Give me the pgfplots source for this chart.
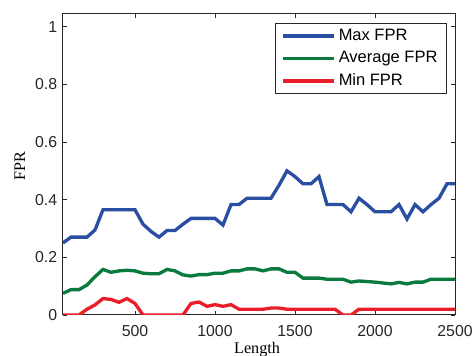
\documentclass[border=0pt]{standalone}
\usepackage{fontspec}
\setmainfont{Liberation Sans}
\newfontfamily\timesf{Liberation Serif}
\usepackage{pgfplots}
\pgfplotsset{compat=1.18}
\definecolor{cblue}{RGB}{42,79,162}
\definecolor{cgreen}{RGB}{10,122,62}
\definecolor{cred}{RGB}{232,30,40}
\begin{document}
\begin{tikzpicture}
\useasboundingbox (-37.8pt,-24.6pt) rectangle (246pt,189pt);
\begin{axis}[
  scale only axis,
  width=235.2pt, height=180.6pt,
  xmin=50, xmax=2500, ymin=0, ymax=1.044,
  xtick={500,1000,1500,2000,2500},
  ytick={0,0.2,0.4,0.6,0.8,1},
  tick align=inside,
  major tick length=2.6pt,
  axis line style={line width=0.6pt, color=black!85},
  every tick/.style={line width=0.5pt, color=black!85},
  /pgf/number format/assume math mode=true,
  /pgf/number format/set thousands separator={},
  tick label style={font=\fontsize{9.5}{11}\selectfont, color=black!85},
  xticklabel style={yshift=-2.5pt},
  xlabel={Length},
  ylabel={FPR},
  every axis x label/.style={at={(axis description cs:0.495,-0.088)},anchor=north,inner sep=0pt,font=\timesf\fontsize{9.7}{11}\selectfont},
  every axis y label/.style={at={(axis description cs:-0.11,0.495)},anchor=center,rotate=90,inner sep=0pt,font=\timesf\fontsize{9.7}{11}\selectfont},
  legend style={at={(axis description cs:0.98,0.97)}, anchor=north east,
    draw=black!85, line width=0.6pt, inner xsep=3.5pt, inner ysep=0.8pt,
    font=\fontsize{9.9}{11}\selectfont,
    nodes={inner xsep=2pt, inner ysep=2.25pt, text height=7pt, text depth=2pt}},
  legend cell align=left,
  legend image code/.code={\draw[#1,line width=2pt] (0pt,0pt) -- (30.6pt,0pt);},
]
\addplot[cblue, line width=2pt] coordinates {
(50,0.25) (100,0.27) (150,0.27) (200,0.27) (250,0.295) (300,0.365) (350,0.365) (400,0.365) (450,0.365) (500,0.365)
(550,0.315) (600,0.29) (650,0.27) (700,0.293) (750,0.293) (800,0.315) (850,0.335) (900,0.335) (950,0.335) (1000,0.335)
(1050,0.312) (1100,0.383) (1150,0.383) (1200,0.405) (1250,0.405) (1300,0.405) (1350,0.405) (1400,0.45) (1450,0.5) (1500,0.48)
(1550,0.455) (1600,0.455) (1650,0.48) (1700,0.383) (1750,0.383) (1800,0.383) (1850,0.358) (1900,0.405) (1950,0.383) (2000,0.358)
(2050,0.358) (2100,0.358) (2150,0.383) (2200,0.333) (2250,0.383) (2300,0.358) (2350,0.383) (2400,0.405) (2450,0.455) (2500,0.455)
};
\addlegendentry{Max FPR}
\addplot[cgreen, line width=2pt] coordinates {
(50,0.075) (100,0.088) (150,0.088) (200,0.104) (250,0.133) (300,0.158) (350,0.148) (400,0.153) (450,0.155) (500,0.153)
(550,0.145) (600,0.143) (650,0.143) (700,0.158) (750,0.153) (800,0.139) (850,0.135) (900,0.14) (950,0.14) (1000,0.145)
(1050,0.145) (1100,0.153) (1150,0.153) (1200,0.16) (1250,0.16) (1300,0.153) (1350,0.16) (1400,0.16) (1450,0.148) (1500,0.148)
(1550,0.128) (1600,0.128) (1650,0.128) (1700,0.124) (1750,0.124) (1800,0.124) (1850,0.114) (1900,0.118) (1950,0.116) (2000,0.114)
(2050,0.111) (2100,0.108) (2150,0.113) (2200,0.108) (2250,0.114) (2300,0.114) (2350,0.124) (2400,0.124) (2450,0.124) (2500,0.124)
};
\addlegendentry{Average FPR}
\addplot[cred, line width=2pt] coordinates {
(50,0) (100,0) (150,0) (200,0.02) (250,0.035) (300,0.057) (350,0.054) (400,0.044) (450,0.057) (500,0.04)
(550,0) (600,0) (650,0) (700,0) (750,0) (800,0) (850,0.04) (900,0.045) (950,0.03) (1000,0.036)
(1050,0.03) (1100,0.036) (1150,0.02) (1200,0.02) (1250,0.02) (1300,0.02) (1350,0.024) (1400,0.024) (1450,0.02) (1500,0.02)
(1550,0.02) (1600,0.02) (1650,0.02) (1700,0.02) (1750,0.02) (1800,0) (1850,0) (1900,0.02) (1950,0.02) (2000,0.02)
(2050,0.02) (2100,0.02) (2150,0.02) (2200,0.02) (2250,0.02) (2300,0.02) (2350,0.02) (2400,0.02) (2450,0.02) (2500,0.02)
};
\addlegendentry{Min FPR}
\end{axis}
\end{tikzpicture}
\end{document}
